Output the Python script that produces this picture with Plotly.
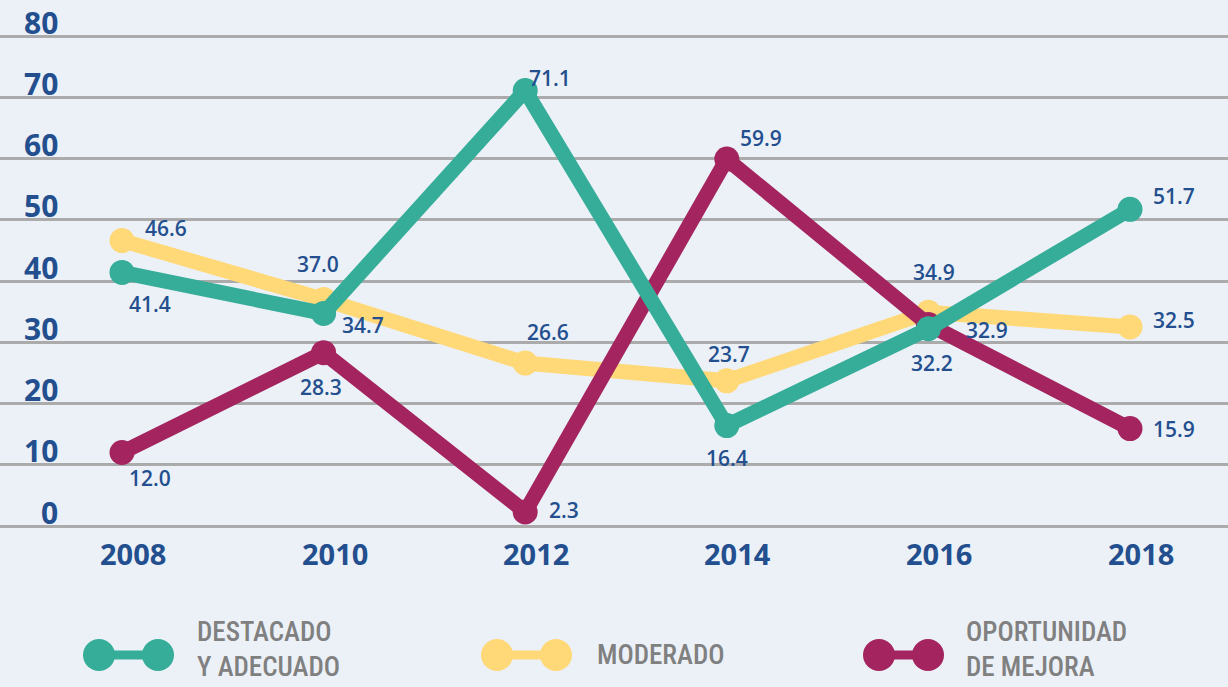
import plotly.graph_objects as go

years = [2008, 2010, 2012, 2014, 2016, 2018]
destacado = [41.4, 34.7, 71.1, 16.4, 32.2, 51.7]
moderado = [46.6, 37.0, 26.6, 23.7, 34.9, 32.5]
oportunidad = [12.0, 28.3, 2.3, 59.9, 32.9, 15.9]
y_ticks = [0, 10, 20, 30, 40, 50, 60, 70, 80]
x_ticks = years
series_names = ["DESTACADO<br>Y ADECUADO", "MODERADO", "OPORTUNIDAD<br>DE MEJORA"]

# label pixel offsets (style)
off_dest = [(28, -32), (39, -12), (25, 13), (0, -32), (4, -34), (44, 13)]
off_mod = [(44, 13), (-6, 35), (23, 31), (2, 27), (6, 40), (44, 7)]
off_opo = [(28, -25), (-3, -34), (39, 2), (34, 21), (59, -6), (44, 0)]

TEAL = "#35AD98"
YELLOW = "#FFD877"
PURPLE = "#A3245E"
BLUE = "#234F8E"
GRAY_TXT = "#808080"
BG = "#ECF1F8"

W, H = 1228, 687
PLOT_BOTTOM = 540  # px from top

fig = go.Figure()
for vals, col in [(moderado, YELLOW), (oportunidad, PURPLE), (destacado, TEAL)]:
    fig.add_trace(go.Scatter(
        x=years, y=vals, mode="lines+markers",
        line=dict(color=col, width=15),
        marker=dict(color=col, size=25),
        cliponaxis=False, showlegend=False, hoverinfo="skip"))

ann = []
for vals, offs in [(destacado, off_dest), (moderado, off_mod), (oportunidad, off_opo)]:
    for x, v, (dx, dy) in zip(years, vals, offs):
        ann.append(dict(x=x, y=v, xref="x", yref="y", text=f"{v:.1f}",
                        showarrow=False, xshift=dx, yshift=dy,
                        font=dict(family="Open Sans", size=21, color=BLUE, weight=600)))

for t in y_ticks:
    ann.append(dict(x=0, y=t, xref="paper", yref="y", text=str(t), showarrow=False,
                    xanchor="right", yanchor="middle", xshift=60, yshift=14,
                    font=dict(family="Open Sans", size=30, color=BLUE, weight=700)))
for t in x_ticks:
    ann.append(dict(x=t, y=0, xref="x", yref="paper", text=str(t), showarrow=False,
                    xanchor="center", yanchor="middle", xshift=11, yshift=-13,
                    font=dict(family="Open Sans", size=29, color=BLUE, weight=700)))

# legend (layout positions in px)
legend_items = [(TEAL, 99, 158, 195), (YELLOW, 497, 556, 595), (PURPLE, 879, 928, 964)]
LEG_Y = 655
LEG_TEXT_Y = 649
R = 16
def px(xp):
    return xp / W
def py(yp):
    return (PLOT_BOTTOM - yp) / PLOT_BOTTOM

shapes = []
for (col, c1, c2, tx), name in zip(legend_items, series_names):
    shapes.append(dict(type="line", xref="paper", yref="paper",
                       x0=px(c1), x1=px(c2), y0=py(LEG_Y), y1=py(LEG_Y),
                       line=dict(color=col, width=9)))
    for c in (c1, c2):
        shapes.append(dict(type="circle", xref="paper", yref="paper",
                           x0=px(c - R), x1=px(c + R), y0=py(LEG_Y + R), y1=py(LEG_Y - R),
                           fillcolor=col, line=dict(width=0)))
    ty = LEG_TEXT_Y if "<br>" in name else LEG_Y
    ann.append(dict(x=px(tx), y=py(ty), xref="paper", yref="paper", text=name,
                    showarrow=False, xanchor="left", yanchor="middle", align="left",
                    font=dict(family="Roboto Condensed, Roboto", size=27, color=GRAY_TXT,
                              weight=500)))

y_px_per_unit = (526 - 36) / 80.0
y_top = 80 + 36 / y_px_per_unit
y_bot = -(PLOT_BOTTOM - 526) / y_px_per_unit
x_px_per_year = 100.8
x_left = 2008 - 122 / x_px_per_year
x_right = 2008 + (W - 122) / x_px_per_year

fig.update_layout(
    width=W, height=H,
    margin=dict(l=0, r=0, t=0, b=H - PLOT_BOTTOM),
    paper_bgcolor=BG, plot_bgcolor=BG,
    xaxis=dict(range=[x_left, x_right], showgrid=False, showticklabels=False,
               zeroline=False, showline=False, fixedrange=True),
    yaxis=dict(range=[y_bot, y_top], dtick=10, tick0=0, showgrid=True,
               gridcolor="#ABABAB", gridwidth=3, showticklabels=False,
               zeroline=False, showline=False, fixedrange=True),
    annotations=ann, shapes=shapes,
)

fig.write_html("out.html", config={"displayModeBar": False},
               post_script="document.body.style.margin='0';document.body.style.overflow='hidden';")
